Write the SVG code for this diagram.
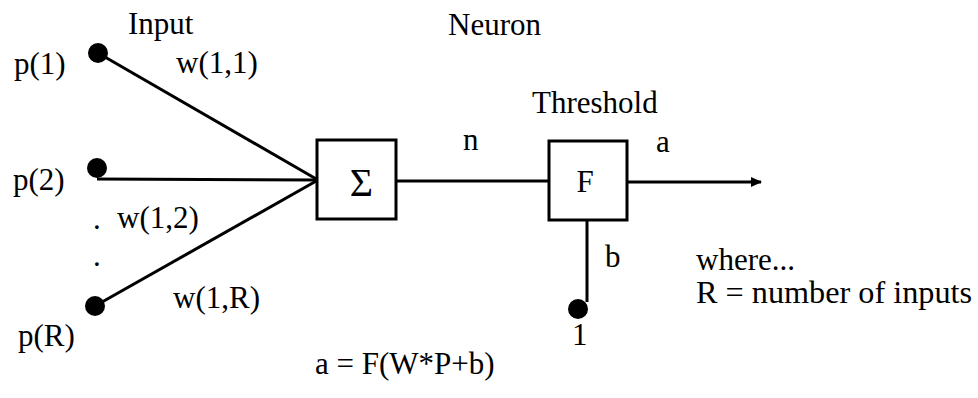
<svg xmlns="http://www.w3.org/2000/svg" width="978" height="398" viewBox="0 0 978 398">
<style>
text{font-family:"Liberation Serif","Times New Roman",serif;font-size:31px;fill:#000}
.ln{stroke:#000;stroke-width:3;fill:none}
.box{stroke:#000;stroke-width:3;fill:#fff}
.dot{fill:#000}
</style>
<defs>
<marker id="arr" markerWidth="11" markerHeight="10" refX="10" refY="5" orient="auto" markerUnits="userSpaceOnUse">
<path d="M0,0 L11,5 L0,10 Z" fill="#000"/>
</marker>
</defs>
<rect width="978" height="398" fill="#fff"/>
<text x="128" y="34">Input</text>
<text x="448" y="35">Neuron</text>
<text x="532" y="113">Threshold</text>
<g id="connectors">
<line class="ln" x1="98" y1="53" x2="318" y2="180"/>
<line class="ln" x1="97" y1="179" x2="318" y2="180"/>
<line class="ln" x1="95" y1="306" x2="318" y2="180"/>
<line class="ln" x1="396" y1="181" x2="549" y2="181"/>
<line class="ln" x1="627" y1="182" x2="761" y2="182" marker-end="url(#arr)"/>
<line class="ln" x1="587" y1="219" x2="587" y2="302"/>
</g>
<g id="p1"><circle class="dot" cx="98" cy="53" r="10"/><text x="14" y="74">p(1)</text></g>
<g id="p2"><circle class="dot" cx="97" cy="168" r="10"/><text x="13" y="190">p(2)</text></g>
<g id="pR"><circle class="dot" cx="95" cy="306" r="10"/><text x="18" y="346">p(R)</text></g>
<g id="ellipsis"><text x="93" y="229">.</text><text x="93" y="266">.</text></g>
<g id="w-labels">
<text x="176" y="73">w(1,1)</text>
<text x="117" y="228">w(1,2)</text>
<text x="173" y="308">w(1,R)</text>
</g>
<g id="sum"><rect class="box" x="317" y="140" width="79" height="79"/><text x="361.5" y="196" text-anchor="middle" style="font-size:40px">Σ</text></g>
<text x="463" y="150">n</text>
<g id="threshold"><rect class="box" x="549" y="141" width="78" height="79"/><text x="585" y="192" text-anchor="middle">F</text></g>
<text x="656" y="152">a</text>
<g id="bias"><circle class="dot" cx="578" cy="309" r="10"/><text x="605" y="267">b</text><text x="572" y="345">1</text></g>
<text x="315" y="374">a = F(W*P+b)</text>
<text x="696" y="270">where...</text>
<text x="696" y="303" textLength="276" lengthAdjust="spacingAndGlyphs">R = number of inputs</text>
</svg>
